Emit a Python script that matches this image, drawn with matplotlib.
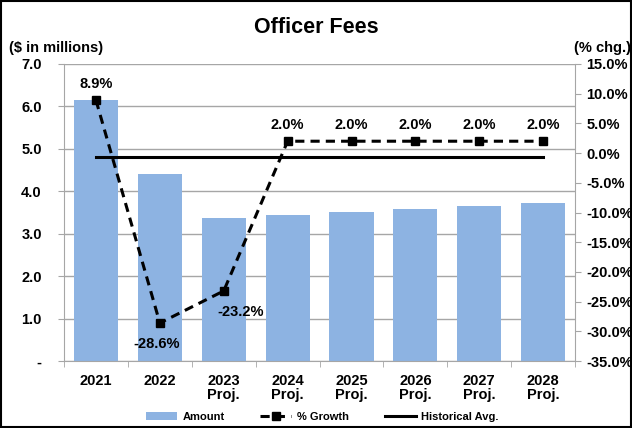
import numpy as np
import matplotlib.pyplot as plt
from matplotlib.ticker import FuncFormatter, FixedLocator

plt.rcParams['font.family'] = ['Liberation Sans', 'DejaVu Sans']
plt.rcParams['font.weight'] = 'bold'

years = ['2021', '2022', '2023\nProj.', '2024\nProj.', '2025\nProj.',
         '2026\nProj.', '2027\nProj.', '2028\nProj.']
amount = [6.15, 4.40, 3.37, 3.44, 3.51, 3.58, 3.65, 3.72]
growth = [8.9, -28.6, -23.2, 2.0, 2.0, 2.0, 2.0, 2.0]
hist_avg = -0.7

fig = plt.figure(figsize=(6.32, 4.28), dpi=100)
ax = fig.add_axes([0.1013, 0.1565, 0.8087, 0.694])
x = np.arange(len(years))

ax.bar(x, amount, width=0.69, color='#8db3e2', zorder=2, label='Amount')
ax.set_ylim(0, 7)
ax.set_xlim(-0.5, len(years) - 0.5)
ax.set_yticks(np.arange(0, 7.1, 1.0))
ax.yaxis.set_major_formatter(FuncFormatter(lambda v, p: '-' if v == 0 else f'{v:.1f}'))
ax.grid(axis='y', color='#a6a6a6', lw=1, zorder=0)
ax.set_xticks(x)
ax.set_xticklabels(years, fontsize=10.5, fontweight='bold', linespacing=1.05)
ax.xaxis.set_minor_locator(FixedLocator(np.arange(-0.5, len(years), 1)))
ax.tick_params(axis='x', which='major', length=0, pad=9)
ax.tick_params(axis='x', which='minor', length=4, color='#a6a6a6')
ax.tick_params(axis='y', length=4, color='#a6a6a6', labelsize=10.5, pad=12)
for s in ['left', 'right', 'bottom', 'top']:
    ax.spines[s].set_color('#a6a6a6')
ax.spines['top'].set_visible(False)

ax2 = ax.twinx()
ax2.set_ylim(-35, 15)
ax2.set_yticks(np.arange(-35, 15.1, 5))
ax2.yaxis.set_major_formatter(FuncFormatter(lambda v, p: f'{v:.1f}%'))
ax2.tick_params(axis='y', length=4, color='#a6a6a6', labelsize=10.5, pad=4)
for s in ['left', 'right', 'bottom', 'top']:
    ax2.spines[s].set_visible(False)

ax2.plot(x, growth, color='black', ls=(0, (3, 2)), lw=2.2, marker='s', ms=6,
         zorder=4, label='% Growth')
ax2.plot([x[0], x[-1]], [hist_avg, hist_avg], color='black', lw=2.2, zorder=3,
         label='Historical Avg.')

offsets = [(0, 12), (-2, -15), (12, -15), (0, 12), (0, 12), (0, 12), (0, 12), (0, 12)]
for xi, g, (dx, dy) in zip(x, growth, offsets):
    ax2.annotate(f'{g:.1f}%', (xi, g), xytext=(dx, dy), textcoords='offset points',
                 ha='center', va='center', fontsize=10.5, fontweight='bold')

fig.text(0.5, 0.935, 'Officer Fees', ha='center', va='center', fontsize=15.5, fontweight='bold')
fig.text(0.015, 0.888, '($ in millions)', ha='left', va='center', fontsize=10.5, fontweight='bold')
fig.text(0.998, 0.888, '(% chg.)', ha='right', va='center', fontsize=10.5, fontweight='bold')

h1, l1 = ax.get_legend_handles_labels()
h2, l2 = ax2.get_legend_handles_labels()
fig.legend(h1 + h2, l1 + l2, loc='center', bbox_to_anchor=(0.51, 0.026), ncol=3,
           frameon=False, fontsize=8, handlelength=2.8, columnspacing=3.2,
           handletextpad=0.5, borderaxespad=0)

fig.patches.append(plt.Rectangle((0.002, 0.003), 0.996, 0.994, transform=fig.transFigure,
                                 fill=False, edgecolor='black', lw=1.5))

fig.savefig('out.png', dpi=100)
